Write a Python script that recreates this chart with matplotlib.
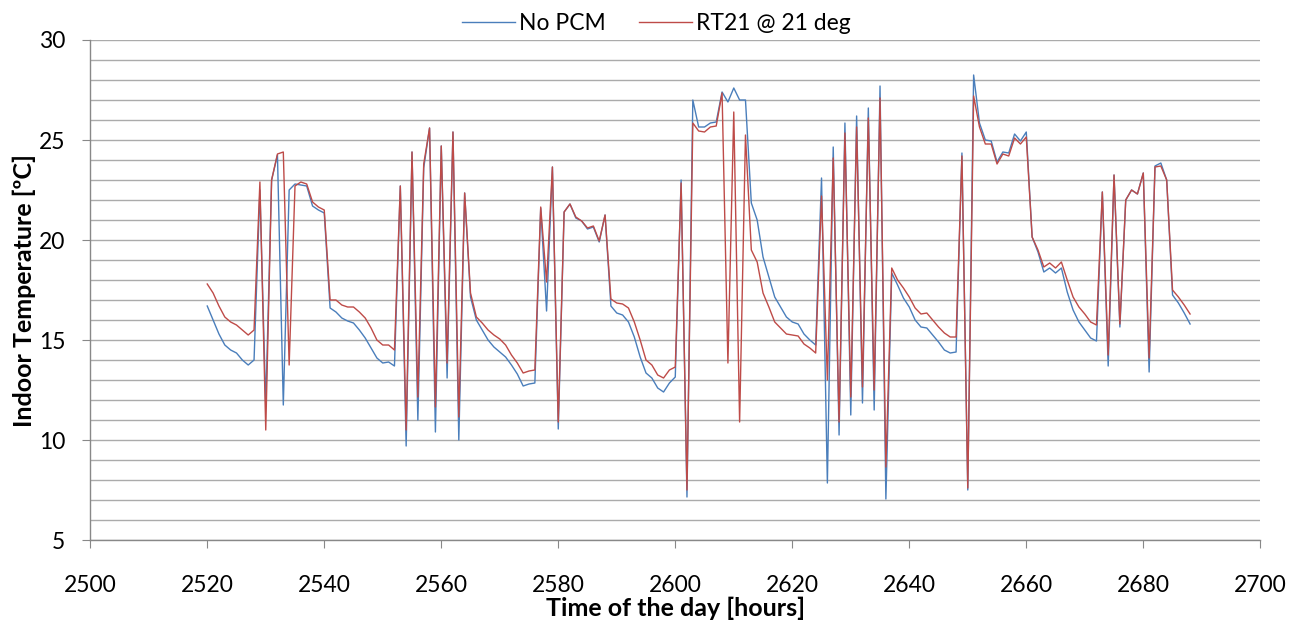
import numpy as np
import matplotlib.pyplot as plt

# hourly samples, 2520 .. 2688
hours = np.arange(2520, 2689)

no_pcm = [
    16.7, 16.0, 15.3, 14.75, 14.5, 14.35, 14.0, 13.75, 14.0, 22.5,      # 2520-2529
    11.75, 23.0, 24.25, 11.75, 22.5, 22.8, 22.75, 22.7, 21.7, 21.5,     # 2530-2539
    21.35, 16.6, 16.4, 16.1, 15.95, 15.85, 15.5, 15.1, 14.6, 14.1,      # 2540-2549
    13.85, 13.9, 13.7, 22.7, 9.7, 24.4, 11.0, 23.6, 25.6, 10.4,         # 2550-2559
    24.7, 13.1, 25.4, 10.0, 22.35, 17.15, 16.0, 15.5, 15.0, 14.65,      # 2560-2569
    14.4, 14.15, 13.75, 13.3, 12.7, 12.8, 12.85, 21.6, 16.45, 23.65,    # 2570-2579
    10.55, 21.4, 21.8, 21.1, 20.95, 20.55, 20.65, 19.9, 21.25, 16.7,    # 2580-2589
    16.35, 16.25, 15.9, 15.15, 14.15, 13.35, 13.1, 12.6, 12.4, 12.85,   # 2590-2599
    13.15, 23.0, 7.15, 27.0, 25.65, 25.65, 25.85, 25.9, 27.4, 26.9,     # 2600-2609
    27.6, 27.0, 27.0, 21.85, 21.0, 19.15, 18.15, 17.15, 16.65, 16.15,   # 2610-2619
    15.9, 15.8, 15.3, 15.0, 14.75, 23.1, 7.85, 24.65, 10.25, 25.85,     # 2620-2629
    11.25, 26.2, 11.85, 26.6, 11.5, 27.7, 7.05, 18.35, 17.75, 17.1,     # 2630-2639
    16.65, 16.0, 15.65, 15.6, 15.25, 14.9, 14.5, 14.35, 14.4, 24.35,    # 2640-2649
    7.5, 28.25, 25.85, 25.0, 24.95, 23.9, 24.4, 24.35, 25.3, 24.95,     # 2650-2659
    25.4, 20.15, 19.4, 18.4, 18.6, 18.35, 18.6, 17.4, 16.5, 15.9,       # 2660-2669
    15.5, 15.1, 14.95, 22.4, 13.7, 23.25, 15.65, 22.0, 22.5, 22.3,      # 2670-2679
    23.35, 13.4, 23.7, 23.85, 23.0, 17.25, 16.85, 16.35, 15.8,          # 2680-2688
]

rt21 = [
    17.8, 17.35, 16.7, 16.15, 15.9, 15.75, 15.5, 15.25, 15.5, 22.9,     # 2520-2529
    10.5, 23.0, 24.3, 24.4, 13.75, 22.7, 22.9, 22.8, 21.9, 21.65,       # 2530-2539
    21.5, 17.0, 17.0, 16.75, 16.65, 16.65, 16.4, 16.1, 15.6, 15.0,      # 2540-2549
    14.75, 14.75, 14.5, 22.7, 10.5, 24.4, 12.15, 23.8, 25.6, 11.65,     # 2550-2559
    24.7, 13.85, 25.4, 11.15, 22.35, 17.35, 16.15, 15.85, 15.5, 15.25,  # 2560-2569
    15.05, 14.75, 14.25, 13.85, 13.35, 13.45, 13.5, 21.65, 17.9, 23.65, # 2570-2579
    10.9, 21.4, 21.8, 21.15, 20.95, 20.6, 20.7, 19.95, 21.25, 17.05,    # 2580-2589
    16.85, 16.8, 16.6, 15.9, 15.0, 14.0, 13.75, 13.25, 13.1, 13.5,      # 2590-2599
    13.65, 22.85, 7.5, 25.85, 25.45, 25.4, 25.65, 25.7, 27.35, 13.85,   # 2600-2609
    26.4, 10.9, 25.25, 19.5, 18.9, 17.35, 16.65, 15.9, 15.6, 15.3,      # 2610-2619
    15.25, 15.2, 14.8, 14.6, 14.35, 22.2, 13.0, 24.1, 10.9, 25.35,      # 2620-2629
    12.15, 25.65, 12.65, 26.1, 12.5, 27.1, 8.65, 18.6, 18.0, 17.6,      # 2630-2639
    17.15, 16.6, 16.3, 16.35, 16.0, 15.65, 15.35, 15.15, 15.15, 24.2,   # 2640-2649
    7.6, 27.2, 25.65, 24.8, 24.8, 23.8, 24.3, 24.2, 25.1, 24.8,         # 2650-2659
    25.15, 20.15, 19.5, 18.65, 18.85, 18.6, 18.9, 18.0, 17.15, 16.65,   # 2660-2669
    16.3, 15.9, 15.75, 22.4, 14.25, 23.25, 15.8, 22.0, 22.5, 22.3,      # 2670-2679
    23.35, 14.1, 23.65, 23.7, 23.0, 17.5, 17.15, 16.75, 16.3,           # 2680-2688
]

blue = '#4A7EBB'
red = '#BE4B48'
grid_col = '#ABABAB'

plt.rcParams['font.family'] = ['Lato', 'DejaVu Sans']

fig = plt.figure(figsize=(13.06, 6.24), dpi=100)
ax = fig.add_axes([0.0691, 0.1346, 0.8959, 0.8013])

ax.plot(hours, no_pcm, color=blue, lw=1.0, label='No PCM')
ax.plot(hours, rt21, color=red, lw=1.0, label='RT21 @ 21 deg')

ax.set_xlim(2500, 2700)
ax.set_ylim(5, 30)
ax.set_xticks(np.arange(2500, 2701, 20))
ax.set_yticks(np.arange(5, 31, 5))
ax.set_yticks(np.arange(5, 31, 1), minor=True)
ax.yaxis.grid(True, which='both', color=grid_col, lw=1.0)
ax.set_axisbelow(True)

for s in ['top', 'right']:
    ax.spines[s].set_visible(False)
for s in ['left', 'bottom']:
    ax.spines[s].set_color('#888888')
    ax.spines[s].set_linewidth(1.0)

ax.tick_params(axis='both', which='major', labelsize=16.5, length=6,
               color='#888888', direction='out')
ax.tick_params(axis='x', which='major', pad=19)
ax.tick_params(axis='y', which='major', pad=12)
ax.tick_params(axis='y', which='minor', length=0)

ax.set_xlabel('Time of the day [hours]', fontsize=18, fontweight='bold', labelpad=1)
ax.set_ylabel('Indoor Temperature [ºC]', fontsize=18, fontweight='bold', labelpad=2)

ax.legend(loc='lower center', bbox_to_anchor=(0.484, 0.985), ncol=2, frameon=False,
          fontsize=16.5, handlelength=2.3, columnspacing=1.45, handletextpad=0.2,
          borderpad=0.1)

fig.savefig('out.png', dpi=100)
